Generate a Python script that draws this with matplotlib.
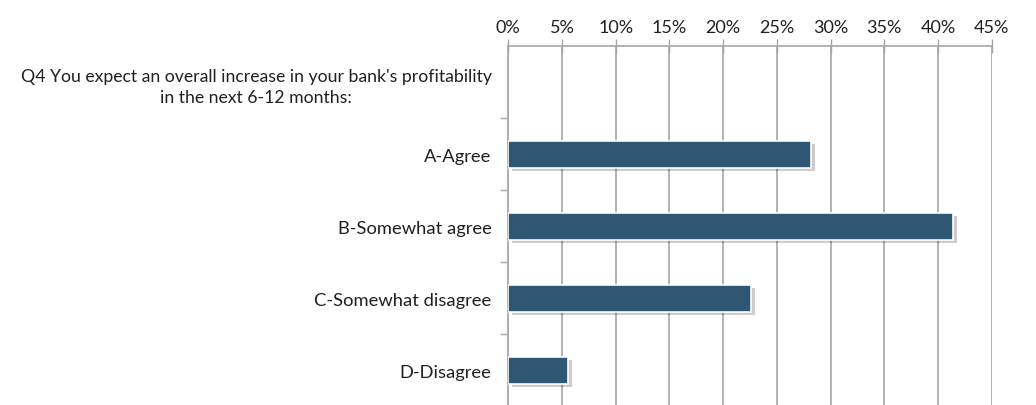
import numpy as np
import matplotlib.pyplot as plt
import matplotlib.patheffects as pe
from matplotlib.ticker import FuncFormatter

# Survey question and answer shares (percent)
question = "Q4 You expect an overall increase in your bank's profitability\nin the next 6-12 months:"
answers = ["A-Agree", "B-Somewhat agree", "C-Somewhat disagree", "D-Disagree"]
shares = [28.2, 41.4, 22.6, 5.6]
x_ticks = [0, 5, 10, 15, 20, 25, 30, 35, 40, 45]

BAR_COLOR = "#2F5672"
GRID_COLOR = "#A6A6A6"

plt.rcParams['font.family'] = ['Lato', 'DejaVu Sans']

fig = plt.figure(figsize=(10.36, 4.06), dpi=100)
ax = fig.add_axes([0.4906, -0.0025, 0.4667, 0.8867])

labels = [question] + answers
pos = np.arange(len(labels))

# the question sits in the first row, the answers below it
bars = ax.barh(pos[1:], shares, height=0.375, color=BAR_COLOR,
               edgecolor="white", linewidth=1.2, zorder=3)
for b in bars:
    b.set_path_effects([pe.SimplePatchShadow(offset=(2.5, -2.5), shadow_rgbFace="#000000", alpha=0.2),
                        pe.Normal()])

ax.set_ylim(len(labels) - 0.5, -0.5)
ax.set_xlim(0, 45)

ax.xaxis.tick_top()
ax.set_xticks(x_ticks)
ax.xaxis.set_major_formatter(FuncFormatter(lambda v, p: f"{v:.0f}%"))
ax.tick_params(axis='x', direction='inout', length=10, width=1, color=GRID_COLOR,
               labelsize=13, pad=3, labelcolor="#202020")

ax.set_yticks(pos)
ax.set_yticklabels(labels)
ax.set_yticks(np.arange(len(labels)) + 0.5, minor=True)
ax.tick_params(axis='y', which='major', length=0, pad=12, labelsize=13.2, labelcolor="#202020")
ax.tick_params(axis='y', which='minor', length=6, width=1, color=GRID_COLOR, direction='out')
ylabels = ax.get_yticklabels()
ylabels[0].set_fontsize(12.7)
ylabels[0].set_linespacing(1.45)
ylabels[0].set_multialignment('center')

ax.grid(axis='x', color=GRID_COLOR, linewidth=1.2, zorder=0)
ax.set_axisbelow(True)
for side in ['right', 'bottom']:
    ax.spines[side].set_visible(False)
for side in ['top', 'left']:
    ax.spines[side].set_color(GRID_COLOR)
    ax.spines[side].set_linewidth(1.2)

fig.savefig("out.png", dpi=100)
